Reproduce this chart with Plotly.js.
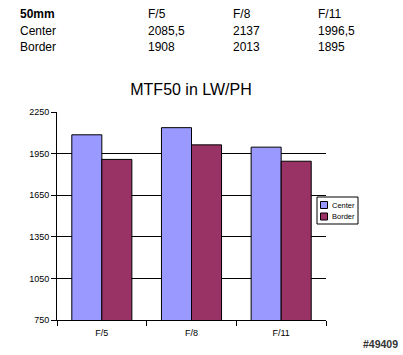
<!DOCTYPE html>
<html>
<head>
<meta charset="utf-8">
<script src="https://cdn.plot.ly/plotly-3.0.1.min.js"></script>
<style>html,body{margin:0;padding:0;background:#fff;}#chart{width:403px;height:355px;}</style>
</head>
<body>
<div id="chart"></div>
<script>
// Data
var categories = ['F/5', 'F/8', 'F/11'];
var centerValues = [2085.5, 2137, 1996.5];
var borderValues = [1908, 2013, 1895];
var seriesNames = ['Center', 'Border'];
var seriesColors = ['#9999FF', '#993366'];
var tableHeader = ['50mm', 'F/5', 'F/8', 'F/11'];
var tableCenterText = ['2085,5', '2137', '1996,5'];
var tableBorderText = ['1908', '2013', '1895'];

var W = 403, H = 355;
var L = 57, R = 326, T = 112, B = 320;
function px(x) { return (x - L) / (R - L); }
function py(y) { return (B - y) / (B - T); }

var font = 'Liberation Sans, Arial, sans-serif';
var colX = [18, 146, 231, 316];
var rowY = [14, 31, 47];
var annotations = [];
var shapes = [];
function addText(txt, x, y, bold, size) {
  annotations.push({
    text: bold ? '<b>' + txt + '</b>' : txt,
    xref: 'paper', yref: 'paper', x: px(x), y: py(y),
    xanchor: 'left', yanchor: 'middle', showarrow: false,
    font: {family: font, size: size || 12, color: '#000'}
  });
}
for (var i = 0; i < tableHeader.length; i++) addText(tableHeader[i], colX[i], rowY[0], i === 0);
addText(seriesNames[0], colX[0], rowY[1]);
addText(seriesNames[1], colX[0], rowY[2]);
for (var j = 0; j < 3; j++) {
  addText(tableCenterText[j], colX[j + 1], rowY[1]);
  addText(tableBorderText[j], colX[j + 1], rowY[2]);
}
annotations.push({
  text: '<b>#49409</b>', xref: 'paper', yref: 'paper', x: px(400), y: py(344),
  xanchor: 'right', yanchor: 'middle', showarrow: false,
  font: {family: font, size: 10.5, color: '#333'}
});

// Custom compact legend (Excel style)
shapes.push({type: 'rect', xref: 'paper', yref: 'paper',
  x0: px(317), x1: px(358), y0: py(197), y1: py(224),
  line: {color: '#000', width: 1}, fillcolor: '#fff', layer: 'above'});
var swY = [205, 216.5];
for (var k = 0; k < 2; k++) {
  shapes.push({type: 'rect', xref: 'paper', yref: 'paper',
    x0: px(320.5), x1: px(327.5), y0: py(swY[k] - 3.5), y1: py(swY[k] + 3.5),
    line: {color: '#000', width: 1}, fillcolor: seriesColors[k], layer: 'above'});
  addText(seriesNames[k], 329.5, swY[k], false, 7.5);
}

var traces = [
  {type: 'bar', name: seriesNames[0], x: categories, y: centerValues,
   marker: {color: seriesColors[0], line: {color: '#000', width: 1}}},
  {type: 'bar', name: seriesNames[1], x: categories, y: borderValues,
   marker: {color: seriesColors[1], line: {color: '#000', width: 1}}}
];

var layout = {
  width: W, height: H,
  margin: {l: L, r: W - R, t: T, b: H - B, pad: 0},
  paper_bgcolor: '#fff', plot_bgcolor: '#fff',
  font: {family: font, color: '#000'},
  title: {text: 'MTF50 in LW/PH', font: {family: font, size: 16, color: '#000'},
          x: px(191), xref: 'paper', xanchor: 'center', y: 1 - 89 / H, yanchor: 'middle'},
  barmode: 'group', bargap: 0.33, bargroupgap: 0,
  showlegend: false,
  xaxis: {type: 'category', showline: true, linecolor: '#000', linewidth: 1,
          ticks: 'outside', tickson: 'boundaries', ticklen: 5, tickcolor: '#000',
          ticklabelstandoff: 4,
          tickfont: {family: font, size: 9, color: '#000'}, showgrid: false,
          fixedrange: true},
  yaxis: {range: [750, 2250], dtick: 300, tick0: 750, showline: true, linecolor: '#000',
          linewidth: 1, ticks: 'outside', ticklen: 5, tickcolor: '#000',
          showgrid: true, gridcolor: '#000', gridwidth: 1, zeroline: false,
          tickfont: {family: font, size: 9, color: '#000'}, fixedrange: true},
  annotations: annotations,
  shapes: shapes
};

Plotly.newPlot('chart', traces, layout, {displayModeBar: false, staticPlot: true});
</script>
</body>
</html>
